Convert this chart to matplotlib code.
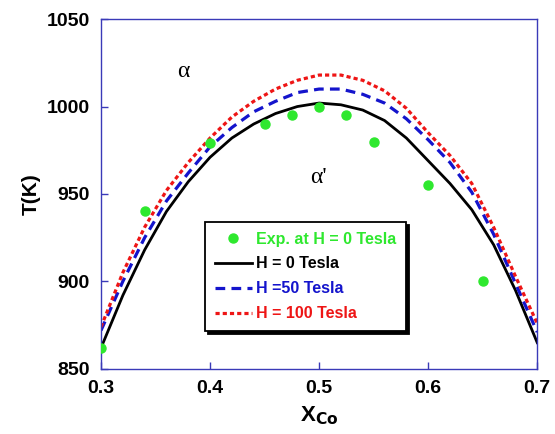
import matplotlib
matplotlib.use("Agg")
import matplotlib.pyplot as plt

plt.rcParams["font.family"] = ["Liberation Sans", "DejaVu Sans"]
plt.rcParams["lines.scale_dashes"] = False

# composition grid for the calculated curves
x_calc = [0.30, 0.32, 0.34, 0.36, 0.38, 0.40, 0.42, 0.44, 0.46, 0.48, 0.50,
          0.52, 0.54, 0.56, 0.58, 0.60, 0.62, 0.64, 0.66, 0.68, 0.70]
t_h0 = [862, 892, 918, 940, 957, 971, 982, 990, 996, 1000, 1002,
        1001, 998, 992, 982, 969, 956, 941, 921, 895, 865]
t_h50 = [872, 900, 925, 946, 962, 977, 988, 997, 1003, 1008, 1010,
         1010, 1007, 1002, 993, 981, 968, 951, 927, 899, 871]
t_h100 = [874, 905, 931, 952, 968, 982, 994, 1003, 1010, 1015, 1018,
          1018, 1015, 1009, 999, 985, 972, 956, 931, 903, 876]

# experimental points at H = 0
x_exp = [0.30, 0.34, 0.40, 0.45, 0.475, 0.50, 0.525, 0.55, 0.60, 0.65]
t_exp = [862, 940, 979, 990, 995, 1000, 995, 980, 955, 900]

GREEN = "#2ee82e"
BLUE = "#1414cc"
RED = "#ee1515"
AXCOL = "#3a3ab8"

fig = plt.figure(figsize=(5.55, 4.34), dpi=100)
ax = fig.add_axes([0.182, 0.150, 0.786, 0.806])

ax.plot(x_exp, t_exp, "o", color=GREEN, markersize=6.5, label="Exp. at H = 0 Tesla", zorder=5)
ax.plot(x_calc, t_h0, "-", color="black", lw=2.0, label="H = 0 Tesla")
ax.plot(x_calc, t_h50, color=BLUE, lw=2.3, dashes=(7, 4.5), label="H =50 Tesla")
ax.plot(x_calc, t_h100, color=RED, lw=2.3, dashes=(3, 2.2), label="H = 100 Tesla")

ax.set_xlim(0.3, 0.7)
ax.set_ylim(850, 1050)
ax.set_xticks([0.3, 0.4, 0.5, 0.6, 0.7])
ax.set_xticklabels(["0.3", "0.4", "0.5", "0.6", "0.7"])
ax.set_yticks([850, 900, 950, 1000, 1050])

for sp in ax.spines.values():
    sp.set_color(AXCOL)
    sp.set_linewidth(1.0)
ax.tick_params(direction="in", length=5, width=1, color=AXCOL,
               labelsize=14, pad=8)
for lab in ax.get_xticklabels() + ax.get_yticklabels():
    lab.set_fontweight("bold")

ax.set_ylabel("T(K)", fontsize=15, fontweight="bold", labelpad=4)
ax.set_xlabel(r"X$_{\mathbf{Co}}$", fontsize=16, fontweight="bold", labelpad=5)

ax.text(0.188, 0.849, "α", transform=ax.transAxes, fontsize=17,
        family="Liberation Serif", ha="center", va="center")
ax.text(0.498, 0.546, "α'", transform=ax.transAxes, fontsize=17,
        family="Liberation Serif", ha="center", va="center")

leg = ax.legend(loc="upper left", bbox_to_anchor=(0.239, 0.42), borderaxespad=0,
                frameon=True, fancybox=False, shadow={"color": "black", "alpha": 1},
                edgecolor="black", handlelength=2.3, handletextpad=0.3,
                labelspacing=0.62, borderpad=0.6, labelcolor="linecolor",
                prop={"weight": "bold", "size": 11.5})
leg.get_frame().set_linewidth(1.3)

fig.savefig("out.png", dpi=100, facecolor="white")
